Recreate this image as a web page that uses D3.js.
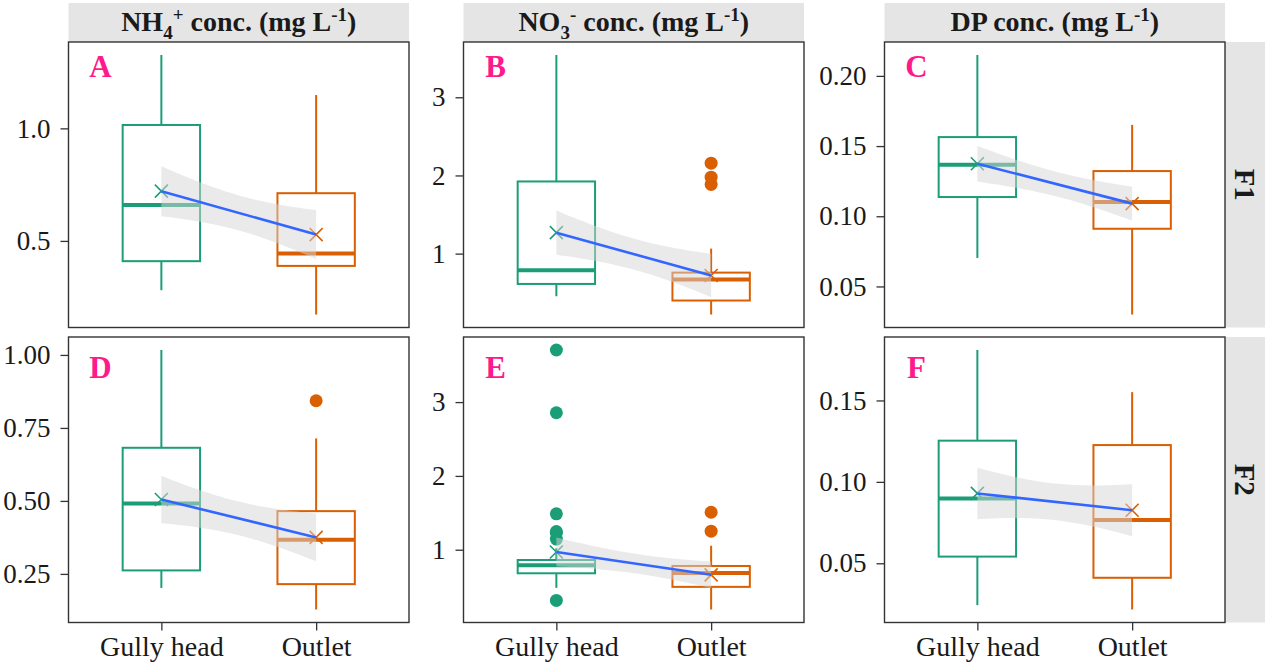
<!DOCTYPE html>
<html>
<head>
<meta charset="utf-8">
<script src="https://cdn.jsdelivr.net/npm/d3@7"></script>
<style>
  body { margin: 0; background: #fff; }
  svg { display: block; font-family: "Liberation Serif", "Times New Roman", serif; }
</style>
</head>
<body>
<div id="chart"></div>
<script>
// groups on the x axis
const groups = ['Gully head', 'Outlet'];
const panelLetters = ['A', 'B', 'C', 'D', 'E', 'F'];
const rowLabels = ['F1', 'F2'];

// column strip titles as [text, kind] pieces
const colTitles = [
  [['NH', ''], ['4', 'sub'], ['+', 'sup'], [' conc. (mg L', ''], ['-1', 'sup'], [')', '']],
  [['NO', ''], ['3', 'sub'], ['-', 'sup'], [' conc. (mg L', ''], ['-1', 'sup'], [')', '']],
  [['DP conc. (mg L', ''], ['-1', 'sup'], [')', '']]
];

// box stats per panel: [lower whisker, Q1, median, Q3, upper whisker]
const ghStats = [
  [0.281, 0.410, 0.659, 1.015, 1.326],
  [0.455, 0.612, 0.787, 1.923, 3.541],
  [0.0703, 0.1137, 0.1367, 0.1564, 0.2149],
  [0.202, 0.262, 0.491, 0.682, 1.017],
  [0.484, 0.681, 0.789, 0.861, 1.02],
  [0.0243, 0.0541, 0.0898, 0.1253, 0.181]
];
const outStats = [
  [0.173, 0.389, 0.444, 0.712, 1.148],
  [0.221, 0.400, 0.668, 0.757, 1.064],
  [0.030, 0.0911, 0.1102, 0.1322, 0.1651],
  [0.128, 0.215, 0.367, 0.465, 0.714],
  [0.190, 0.497, 0.686, 0.780, 1.054],
  [0.0216, 0.0411, 0.0766, 0.1226, 0.1551]
];
// outliers
const ghOutliers = [[], [], [], [], [3.706, 2.856, 1.486, 1.247, 1.225, 1.144, 0.313], []];
const outOutliers = [[], [2.157, 1.978, 1.885], [], [0.843], [1.508, 1.252], []];
// group means (x markers, fitted line ends)
const ghMeans = [0.721, 1.268, 0.1374, 0.505, 0.970, 0.0929];
const outMeans = [0.528, 0.720, 0.109, 0.375, 0.660, 0.0826];
// half-width of the confidence band at each group
const ghCI = [0.111, 0.283, 0.0127, 0.081, 0.195, 0.0158];
const outCI = [0.109, 0.277, 0.0121, 0.082, 0.180, 0.016];

// y ticks
const yTicks = [
  [0.5, 1.0], [1, 2, 3], [0.05, 0.10, 0.15, 0.20],
  [0.25, 0.50, 0.75, 1.00], [1, 2, 3], [0.05, 0.10, 0.15]
];
const yTickLabels = [
  ['0.5', '1.0'], ['1', '2', '3'], ['0.05', '0.10', '0.15', '0.20'],
  ['0.25', '0.50', '0.75', '1.00'], ['1', '2', '3'], ['0.05', '0.10', '0.15']
];

const W = 1267, H = 665;
const colLeft = [68.5, 463.5, 884.5];
const rowTop = [42, 337];
const pw = 340.5, ph = 285.5;
const green = '#1B9E77', orange = '#D95F02';
const colors = [green, orange];

const svg = d3.select('#chart').append('svg')
  .attr('width', W).attr('height', H);

// column strips
colTitles.forEach((pieces, c) => {
  svg.append('rect')
    .attr('x', colLeft[c]).attr('y', 3)
    .attr('width', pw).attr('height', 39)
    .attr('fill', '#E5E5E5');
  const t = svg.append('text')
    .attr('x', colLeft[c] + pw / 2).attr('y', 31)
    .attr('text-anchor', 'middle')
    .attr('font-weight', 'bold').attr('font-size', 28)
    .attr('fill', '#1a1a1a');
  let prev = 0;
  pieces.forEach(([txt, kind]) => {
    const shift = kind === 'sub' ? 8 : kind === 'sup' ? -10 : 0;
    t.append('tspan')
      .attr('dy', shift - prev)
      .attr('font-size', kind ? 19 : 28)
      .text(txt);
    prev = shift;
  });
});

// row strips
rowLabels.forEach((lab, r) => {
  svg.append('rect')
    .attr('x', colLeft[2] + pw).attr('y', rowTop[r])
    .attr('width', 40).attr('height', ph)
    .attr('fill', '#E5E5E5');
  svg.append('text')
    .attr('transform', `translate(${colLeft[2] + pw + 20},${rowTop[r] + ph / 2}) rotate(90)`)
    .attr('text-anchor', 'middle').attr('dominant-baseline', 'central')
    .attr('font-weight', 'bold').attr('font-size', 29)
    .attr('fill', '#1a1a1a')
    .text(lab);
});

const x = d3.scalePoint().domain(groups).range([0, pw]).padding(0.6);
const boxW = x.step() * 0.5;

for (let p = 0; p < 6; p++) {
  const r = Math.floor(p / 3), c = p % 3;
  const g = svg.append('g').attr('transform', `translate(${colLeft[c]},${rowTop[r]})`);

  const stats = [ghStats[p], outStats[p]];
  const outs = [ghOutliers[p], outOutliers[p]];
  const means = [ghMeans[p], outMeans[p]];
  const cis = [ghCI[p], outCI[p]];

  const all = stats.flat().concat(outs.flat());
  const lo = d3.min(all), hi = d3.max(all), pad = (hi - lo) * 0.05;
  const y = d3.scaleLinear().domain([lo - pad, hi + pad]).range([ph, 0]);

  // y axis
  const yAxis = g.append('g')
    .call(d3.axisLeft(y).tickValues(yTicks[p]).tickSize(8).tickPadding(10)
      .tickFormat((d, i) => yTickLabels[p][i]));
  yAxis.select('.domain').remove();
  yAxis.selectAll('line').attr('stroke', '#333').attr('stroke-width', 1.3);
  yAxis.selectAll('text').attr('font-size', 27).attr('fill', '#1a1a1a')
    .attr('font-family', '"Liberation Serif", serif');

  // x axis on bottom row
  if (r === 1) {
    const xAxis = g.append('g').attr('transform', `translate(0,${ph})`)
      .call(d3.axisBottom(x).tickSize(8).tickPadding(6));
    xAxis.select('.domain').remove();
    xAxis.selectAll('line').attr('stroke', '#333').attr('stroke-width', 1.3);
    xAxis.selectAll('text').attr('font-size', 28).attr('fill', '#1a1a1a')
      .attr('font-family', '"Liberation Serif", serif');
  }

  // boxes
  groups.forEach((grp, i) => {
    const s = stats[i], cx = x(grp), col = colors[i];
    const bg = g.append('g');
    bg.append('line').attr('x1', cx).attr('x2', cx)
      .attr('y1', y(s[3])).attr('y2', y(s[4]))
      .attr('stroke', col).attr('stroke-width', 2);
    bg.append('line').attr('x1', cx).attr('x2', cx)
      .attr('y1', y(s[1])).attr('y2', y(s[0]))
      .attr('stroke', col).attr('stroke-width', 2);
    bg.append('rect')
      .attr('x', cx - boxW / 2).attr('y', y(s[3]))
      .attr('width', boxW).attr('height', y(s[1]) - y(s[3]))
      .attr('fill', '#fff').attr('stroke', col).attr('stroke-width', 2);
    bg.append('line')
      .attr('x1', cx - boxW / 2).attr('x2', cx + boxW / 2)
      .attr('y1', y(s[2])).attr('y2', y(s[2]))
      .attr('stroke', col).attr('stroke-width', 4);
    bg.selectAll('circle').data(outs[i]).enter().append('circle')
      .attr('cx', cx).attr('cy', d => y(d)).attr('r', 6.5)
      .attr('fill', col);
  });

  // mean markers
  groups.forEach((grp, i) => {
    const cx = x(grp), cy = y(means[i]), s = 6.5;
    g.append('path')
      .attr('d', `M${cx - s},${cy - s}L${cx + s},${cy + s}M${cx - s},${cy + s}L${cx + s},${cy - s}`)
      .attr('stroke', colors[i]).attr('stroke-width', 1.6).attr('fill', 'none');
  });

  // linear fit with confidence band between the two groups
  const x0 = x(groups[0]), x1 = x(groups[1]);
  const us = d3.range(0, 1.0001, 0.02);
  const band = us.map(u => {
    const m = (1 - u) * means[0] + u * means[1];
    const h = Math.sqrt((1 - u) * (1 - u) * cis[0] * cis[0] + u * u * cis[1] * cis[1]);
    return { px: x0 + u * (x1 - x0), lo: m - h, hi: m + h };
  });
  g.append('path').datum(band)
    .attr('d', d3.area().x(d => d.px).y0(d => y(d.lo)).y1(d => y(d.hi)))
    .attr('fill', '#D6D6D6').attr('fill-opacity', 0.5);
  g.append('line')
    .attr('x1', x0).attr('y1', y(means[0]))
    .attr('x2', x1).attr('y2', y(means[1]))
    .attr('stroke', '#3366FF').attr('stroke-width', 2.6);

  // panel letter
  g.append('text')
    .attr('x', 32).attr('y', r === 0 ? 35 : 41)
    .attr('text-anchor', 'middle')
    .attr('font-weight', 'bold').attr('font-size', 31)
    .attr('fill', '#FF1A8C')
    .text(panelLetters[p]);

  // panel border
  g.append('rect').attr('width', pw).attr('height', ph)
    .attr('fill', 'none').attr('stroke', '#333').attr('stroke-width', 1.4);
}
</script>
</body>
</html>
